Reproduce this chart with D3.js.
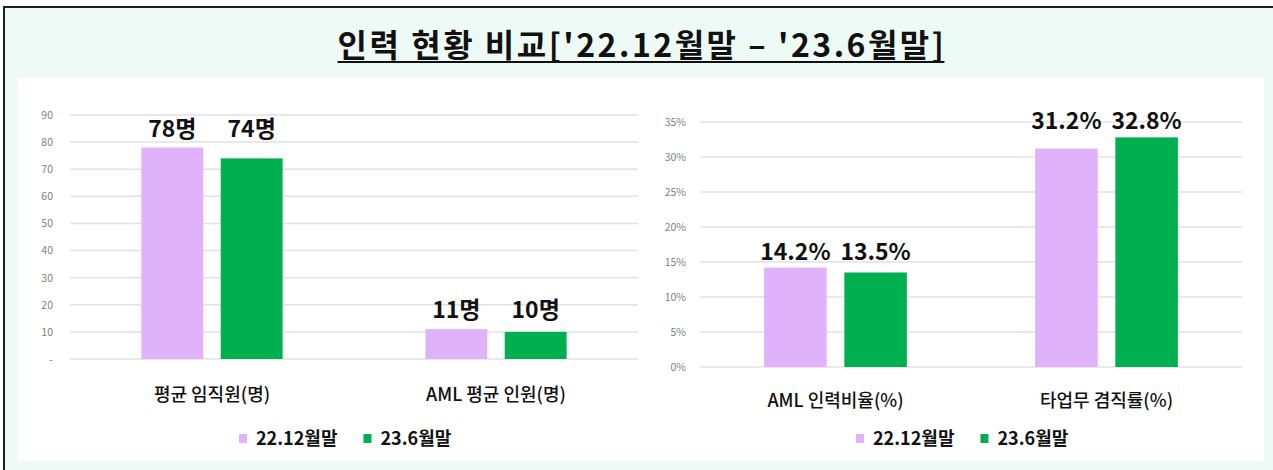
<!DOCTYPE html>
<html>
<head>
<meta charset="utf-8">
<script src="https://cdn.jsdelivr.net/npm/d3@7"></script>
<style>
  body { margin: 0; background: #fff; }
  text { font-family: 'Noto Sans CJK KR', 'Noto Sans', sans-serif; }
</style>
</head>
<body>
<svg id="chart"></svg>
<script>
let width = 1273
let height = 470

// data
const series = ['22.12월말', '23.6월말']

const leftCategories = ['평균 임직원(명)', 'AML 평균 인원(명)']
const leftDec22 = [78, 11]
const leftJun23 = [74, 10]
const leftTicks = [0, 10, 20, 30, 40, 50, 60, 70, 80, 90]

const rightCategories = ['AML 인력비율(%)', '타업무 겸직률(%)']
const rightDec22 = [14.2, 31.2]
const rightJun23 = [13.5, 32.8]
const rightTicks = [0, 5, 10, 15, 20, 25, 30, 35]

const colors = ['#dfb2fa', '#00b050']

const svg = d3
  .select('#chart')
  .attr('width', width)
  .attr('height', height)
  .attr('viewBox', [0, 0, width, height])

// --------------------------------------------------------------
// Frame + title

svg
  .append('rect')
  .attr('x', 4)
  .attr('y', 7)
  .attr('width', width + 20)
  .attr('height', height + 20)
  .attr('fill', '#eefaf5')
  .attr('stroke', '#1e1e1e')
  .attr('stroke-width', 2)

svg
  .append('rect')
  .attr('x', 18)
  .attr('y', 78)
  .attr('width', 1246)
  .attr('height', 383)
  .attr('fill', '#ffffff')

const title = svg
  .append('text')
  .attr('x', 642)
  .attr('y', 57)
  .attr('text-anchor', 'middle')
  .attr('font-size', 32)
  .attr('font-weight', 700)
  .attr('letter-spacing', 2.5)
  .attr('fill', '#111')
  .text("인력 현황 비교['22.12월말 – '23.6월말]")

const tw = title.node().getBBox()
svg
  .append('line')
  .attr('x1', tw.x)
  .attr('x2', tw.x + tw.width - 2)
  .attr('y1', 62)
  .attr('y2', 62)
  .attr('stroke', '#111')
  .attr('stroke-width', 2)

// --------------------------------------------------------------
// One bar panel

function drawPanel(opt) {
  const rows = opt.categories.map((c, i) => ({
    cat: c,
    values: [opt.a[i], opt.b[i]],
  }))

  const x0 = d3
    .scaleBand()
    .domain(opt.categories)
    .range([opt.left, opt.right])

  const x1 = d3
    .scaleBand()
    .domain(series)
    .range([0, x0.bandwidth()])
    .paddingInner(0.22)
    .paddingOuter(opt.outer)

  const y = d3
    .scaleLinear()
    .domain([0, opt.max])
    .range([opt.bottom, opt.top])

  const g = svg.append('g')

  // grid
  g.append('g')
    .selectAll('line')
    .data(opt.ticks)
    .join('line')
    .attr('x1', opt.left)
    .attr('x2', opt.right)
    .attr('y1', (d) => y(d))
    .attr('y2', (d) => y(d))
    .attr('stroke', '#e2e2e2')
    .attr('stroke-width', 1.5)

  // y axis labels
  const yAxis = g
    .append('g')
    .attr('transform', `translate(${opt.left - opt.labelGap},0)`)
    .call(d3.axisLeft(y).tickValues(opt.ticks).tickSize(0).tickFormat(opt.fmt))
  yAxis.select('.domain').remove()
  yAxis
    .selectAll('text')
    .attr('font-size', 10.5)
    .attr('fill', '#808080')
    .attr('font-family', "'Open Sans', sans-serif")

  // bars
  const groups = g
    .selectAll('.grp')
    .data(rows)
    .join('g')
    .attr('class', 'grp')
    .attr('transform', (d) => `translate(${x0(d.cat)},0)`)

  groups
    .selectAll('rect')
    .data((d) => d.values.map((v, i) => ({ v: v, s: series[i] })))
    .join('rect')
    .attr('x', (d) => x1(d.s))
    .attr('width', x1.bandwidth())
    .attr('y', (d) => y(d.v))
    .attr('height', (d) => y(0) - y(d.v))
    .attr('fill', (d, i) => colors[i])

  // value labels, placed over the taller bar of the pair
  groups.each(function (d) {
    const top = y(d3.max(d.values))
    d3.select(this)
      .selectAll('.val')
      .data(d.values.map((v, i) => ({ v: v, s: series[i] })))
      .join('text')
      .attr('class', 'val')
      .attr('x', (e) => x1(e.s) + x1.bandwidth() / 2)
      .attr('y', top - opt.valGap)
      .attr('text-anchor', 'middle')
      .attr('font-size', 23)
      .attr('font-weight', 700)
      .attr('fill', '#111')
      .text((e) => opt.valFmt(e.v))
  })

  // category labels
  g.append('g')
    .selectAll('text')
    .data(opt.categories)
    .join('text')
    .attr('x', (d) => x0(d) + x0.bandwidth() / 2)
    .attr('y', opt.catY)
    .attr('text-anchor', 'middle')
    .attr('font-size', 18)
    .attr('font-weight', 500)
    .attr('fill', '#111')
    .text((d) => d)

  // legend
  const leg = g.append('g').attr('transform', `translate(${opt.legX},${opt.legY})`)
  let lx = 0
  series.forEach((s, i) => {
    leg
      .append('rect')
      .attr('x', lx)
      .attr('y', -5)
      .attr('width', 8)
      .attr('height', 9)
      .attr('fill', colors[i])
    const t = leg
      .append('text')
      .attr('x', lx + 17)
      .attr('y', 6)
      .attr('font-size', 18)
      .attr('font-weight', 700)
      .attr('fill', '#111')
      .text(s)
    lx += 17 + t.node().getComputedTextLength() + 26
  })
}

// --------------------------------------------------------------
// Left: headcount

drawPanel({
  categories: leftCategories,
  a: leftDec22,
  b: leftJun23,
  ticks: leftTicks,
  max: 90,
  left: 70,
  right: 638,
  top: 115,
  bottom: 359,
  outer: 0.9,
  labelGap: 14,
  fmt: (d) => (d === 0 ? '-' : d),
  valFmt: (v) => v + '명',
  valGap: 11,
  catY: 401,
  legX: 239,
  legY: 439,
})

// --------------------------------------------------------------
// Right: ratios

drawPanel({
  categories: rightCategories,
  a: rightDec22,
  b: rightJun23,
  ticks: rightTicks,
  max: 35,
  left: 700,
  right: 1242,
  top: 122,
  bottom: 367,
  outer: 0.8,
  labelGap: 11,
  fmt: (d) => d + '%',
  valFmt: (v) => v.toFixed(1) + '%',
  valGap: 8,
  catY: 407,
  legX: 856,
  legY: 439,
})
</script>
</body>
</html>
